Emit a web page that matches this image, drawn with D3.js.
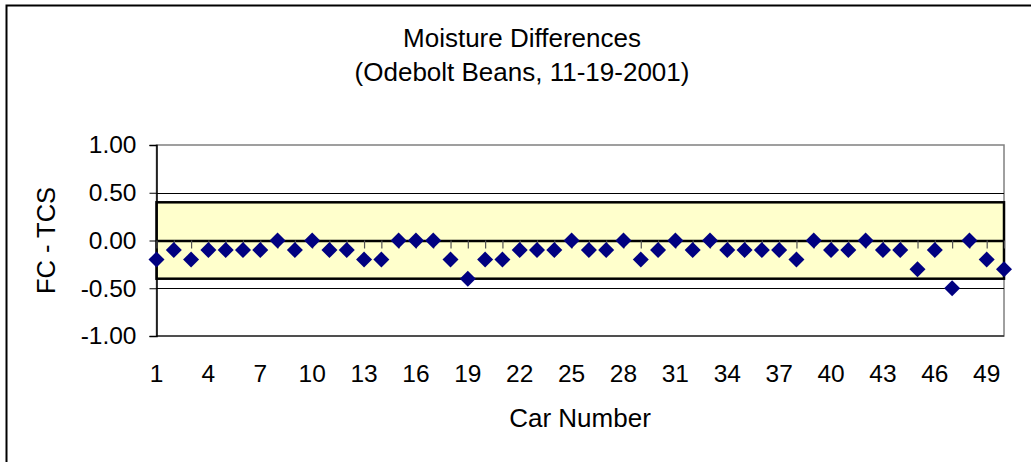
<!DOCTYPE html>
<html>
<head>
<meta charset="utf-8">
<script src="https://cdn.jsdelivr.net/npm/d3@7"></script>
<style>
  html, body { margin: 0; padding: 0; background: #fff; }
  svg { display: block; }
  text { font-family: "Liberation Sans", Arial, sans-serif; fill: #000; }
</style>
</head>
<body>
<svg id="chart" width="1031" height="462"></svg>
<script>
const titleLines = ["Moisture Differences", "(Odebolt Beans, 11-19-2001)"];
const xTitle = "Car Number";
const yTitle = "FC - TCS";
const carNumbers = d3.range(1, 51);
const differences = [
  -0.2, -0.1, -0.2, -0.1, -0.1, -0.1, -0.1, 0.0, -0.1, 0.0,
  -0.1, -0.1, -0.2, -0.2, 0.0, 0.0, 0.0, -0.2, -0.4, -0.2,
  -0.2, -0.1, -0.1, -0.1, 0.0, -0.1, -0.1, 0.0, -0.2, -0.1,
  0.0, -0.1, 0.0, -0.1, -0.1, -0.1, -0.1, -0.2, 0.0, -0.1,
  -0.1, 0.0, -0.1, -0.1, -0.3, -0.1, -0.5, 0.0, -0.2, -0.3
];
const yTicks = [-1.0, -0.5, 0.0, 0.5, 1.0];
const xTickLabels = [1, 4, 7, 10, 13, 16, 19, 22, 25, 28, 31, 34, 37, 40, 43, 46, 49];
const bandLimits = [-0.4, 0.4];

const FS = 24.5, FT = 26;
const svg = d3.select("#chart");
const L = 156.5, R = 1004, T = 145, B = 336;

const x = d3.scaleLinear().domain([1, 50]).range([L, R]);
const y = d3.scaleLinear().domain([-1, 1]).range([B, T]);

// outer chart border (clipped)
svg.append("path")
  .attr("d", `M6.5,${462 + 5}V5.5H${1031 + 5}`)
  .attr("fill", "none").attr("stroke", "#000").attr("stroke-width", 2);

// titles
svg.append("text").attr("x", 522).attr("y", 47).attr("text-anchor", "middle")
  .style("font-size", FT + "px").text(titleLines[0]);
svg.append("text").attr("x", 522).attr("y", 81).attr("text-anchor", "middle")
  .style("font-size", FT + "px").text(titleLines[1]);

// plot area border
svg.append("rect").attr("x", L).attr("y", T).attr("width", R - L).attr("height", B - T)
  .attr("fill", "#fff").attr("stroke", "#808080").attr("stroke-width", 1.5);

// gridlines
svg.append("g").selectAll("line").data(yTicks.filter(d => d !== 0 && Math.abs(d) !== 1))
  .join("line")
  .attr("x1", L).attr("x2", R)
  .attr("y1", d => Math.round(y(d)) + 0.5).attr("y2", d => Math.round(y(d)) + 0.5)
  .attr("stroke", "#000").attr("stroke-width", 1);

// bottom line
svg.append("line").attr("x1", L).attr("x2", R).attr("y1", B).attr("y2", B)
  .attr("stroke", "#000").attr("stroke-width", 1.2);

// tolerance band
svg.append("rect")
  .attr("x", x(1)).attr("y", y(bandLimits[1]))
  .attr("width", x(50) - x(1)).attr("height", y(bandLimits[0]) - y(bandLimits[1]))
  .attr("fill", "#FFFFCC").attr("stroke", "#000").attr("stroke-width", 2.5);

// y axis
const fmt = d => d3.format(".2f")(d).replace("\u2212", "-");
const yAxis = d3.axisLeft(y).tickValues(yTicks).tickFormat(fmt)
  .tickSize(7).tickPadding(13);
const gy = svg.append("g").attr("transform", `translate(${L},0)`).call(yAxis);
gy.attr("font-size", FS).attr("font-family", "Liberation Sans, Arial, sans-serif");
gy.select(".domain").attr("stroke", "#000").attr("stroke-width", 1.5);
gy.selectAll(".tick line").attr("stroke", "#000");
gy.selectAll(".tick text").style("font-size", FS + "px").attr("fill", "#000");

// x axis on zero line, ticks at every category
const xAxis = d3.axisBottom(x).tickValues(carNumbers).tickFormat("").tickSize(8).tickSizeOuter(0);
const gx = svg.append("g").attr("transform", `translate(0,${y(0)})`).call(xAxis);
gx.select(".domain").attr("stroke", "#000").attr("stroke-width", 2.5);
gx.selectAll(".tick line").attr("stroke", "#555").attr("stroke-width", 1.2);

// x tick labels
svg.append("g").selectAll("text").data(xTickLabels).join("text")
  .attr("x", d => x(d)).attr("y", 382).attr("text-anchor", "middle")
  .style("font-size", FS + "px").text(d => d);

// axis titles
svg.append("text").attr("x", 580).attr("y", 427).attr("text-anchor", "middle")
  .style("font-size", FT + "px").text(xTitle);
svg.append("text").attr("transform", `translate(55,${y(0)}) rotate(-90)`)
  .attr("text-anchor", "middle").style("font-size", "25.5px").text(yTitle);

// markers
svg.append("g").selectAll("path").data(carNumbers.map((c, i) => [c, differences[i]]))
  .join("path")
  .attr("transform", d => `translate(${x(d[0])},${y(d[1])})`)
  .attr("d", "M0,-8L8,0L0,8L-8,0Z")
  .attr("fill", "#000080");
</script>
</body>
</html>
